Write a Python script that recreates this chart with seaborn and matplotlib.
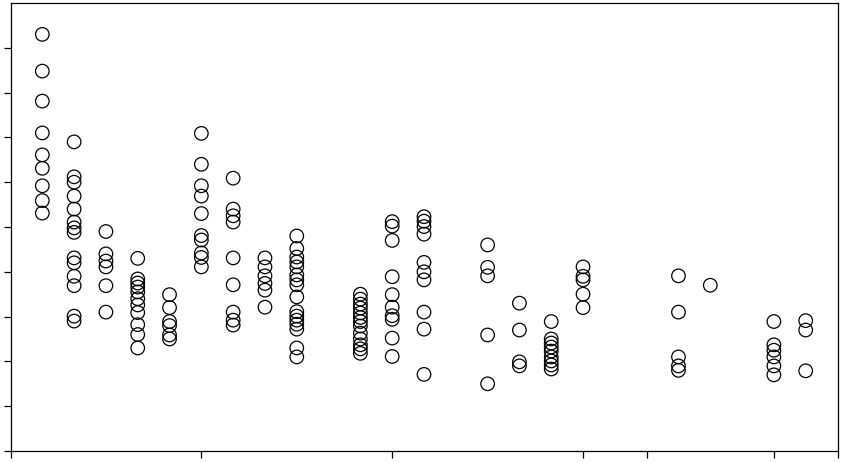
import pandas as pd
import matplotlib
matplotlib.use("Agg")
import matplotlib.pyplot as plt
import seaborn as sns

# Позиции групп по оси X и значения внутри каждой группы
group_x = [1, 2, 3, 4, 5, 6, 7, 8, 9, 11, 12, 13, 15, 16, 17, 18, 21, 22, 24, 25]
group_values = [
    [93.0, 84.8, 78.1, 71.0, 66.1, 63.1, 59.2, 55.9, 53.1],
    [69.0, 61.2, 60.0, 56.9, 54.0, 51.1, 49.8, 48.8, 43.1, 42.0, 39.0, 36.9, 30.1, 29.0],
    [49.0, 44.0, 42.4, 41.1, 36.9, 31.0],
    [43.0, 38.4, 37.5, 36.6, 35.5, 34.0, 32.6, 30.9, 28.2, 26.0, 23.0],
    [34.9, 32.0, 28.9, 28.0, 25.9, 25.0],
    [70.9, 64.0, 59.2, 56.9, 53.0, 48.1, 47.1, 44.2, 43.2, 41.1],
    [60.9, 54.0, 52.5, 51.1, 43.1, 37.1, 31.0, 29.2, 28.1],
    [43.1, 41.1, 39.1, 37.4, 35.9, 32.1],
    [48.0, 45.2, 43.3, 42.2, 41.1, 39.3, 38.2, 37.1, 34.4, 31.1, 30.1, 29.2, 28.3, 27.2, 23.0, 21.0],
    [35.0, 33.9, 32.8, 31.9, 30.8, 29.8, 28.9, 27.9, 26.3, 25.0, 23.7, 22.8, 21.8],
    [51.2, 50.2, 47.0, 38.9, 34.9, 32.1, 30.2, 29.4, 25.2, 21.1],
    [52.3, 51.3, 50.1, 48.4, 42.1, 40.0, 38.2, 31.0, 27.2, 17.1],
    [46.0, 41.0, 39.1, 25.9, 15.0],
    [33.0, 27.0, 19.9, 19.0],
    [28.9, 25.0, 24.1, 23.2, 22.3, 21.0, 20.1, 19.2, 18.3],
    [41.1, 39.0, 38.2, 35.0, 32.0],
    [39.1, 31.0, 21.0, 19.0, 18.0],
    [37.0],
    [28.9, 23.7, 22.5, 21.0, 19.0, 17.0],
    [29.1, 27.0, 17.9],
]
x_ticks = [0, 6, 12, 18, 20, 24, 26]
y_ticks = [0, 10, 20, 30, 40, 50, 60, 70, 80, 90]

rows = []
for gx, vals in zip(group_x, group_values):
    for v in vals:
        rows.append({'x': gx, 'y': v})
df = pd.DataFrame(rows)

sns.set_style('ticks')
fig = plt.figure(figsize=(8.42, 4.62), dpi=100)
ax = fig.add_axes([10.5 / 842, 1 - 451 / 462, 827 / 842, 448 / 462])

sns.scatterplot(data=df, x='x', y='y', ax=ax, s=95, marker='o',
                facecolors='none', edgecolor='black', linewidth=0.9)

ax.set_xlim(0, 26)
ax.set_ylim(0, 100)
ax.set_xticks(x_ticks)
ax.set_yticks(y_ticks)
ax.set_xticklabels([])
ax.set_yticklabels([])
ax.set_xlabel('')
ax.set_ylabel('')
ax.tick_params(direction='out', length=5, width=0.9, color='black')
for sp in ax.spines.values():
    sp.set_color('black')
    sp.set_linewidth(0.9)

fig.savefig('out.png', dpi=100)
